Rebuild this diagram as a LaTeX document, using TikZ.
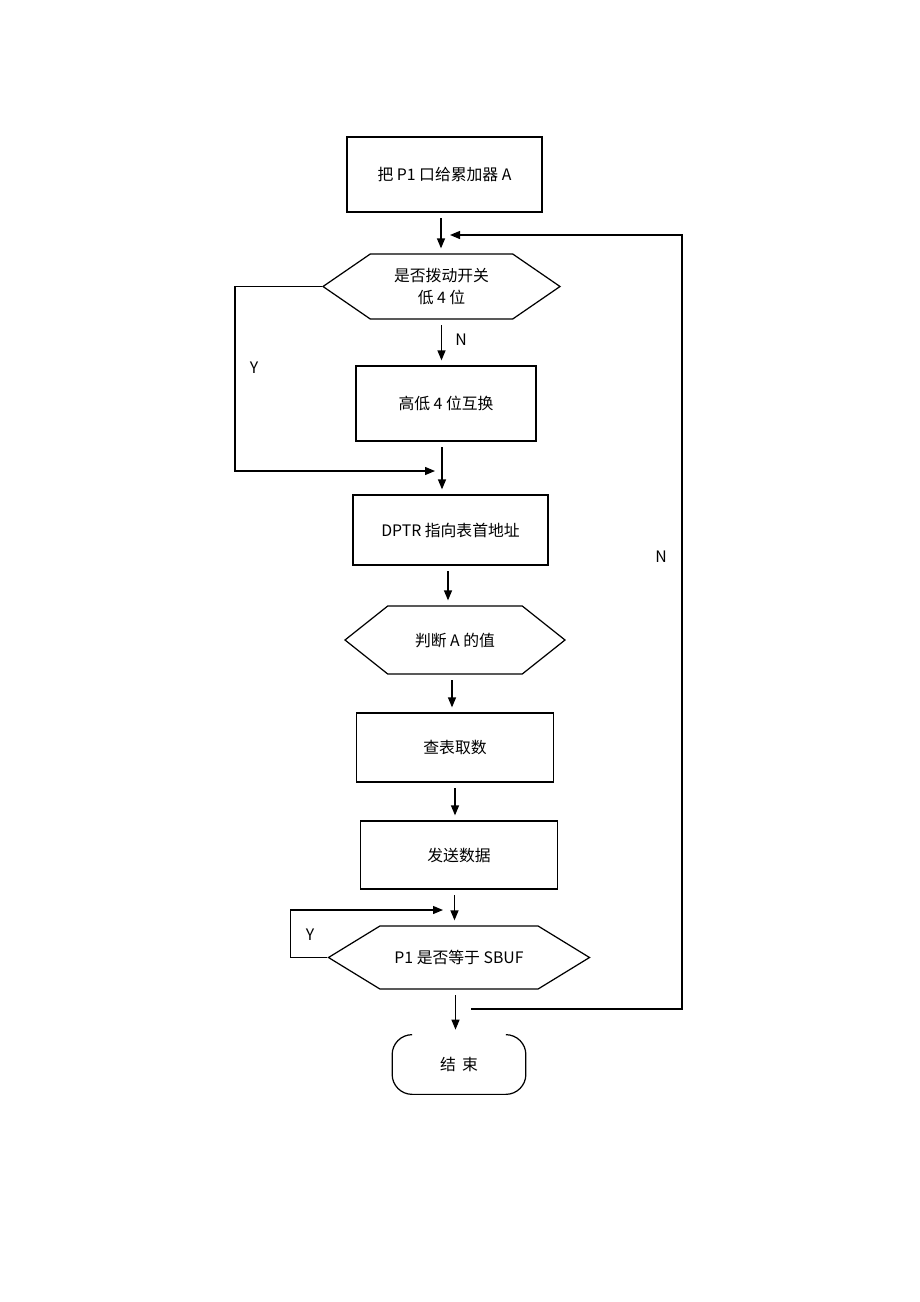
\documentclass[tikz,border=0pt]{standalone}
\usepackage{fontspec}
\setmainfont{Noto Sans CJK SC}
\usetikzlibrary{arrows.meta,shapes.symbols,shapes.geometric}
\tikzstyle{process} = [rectangle, minimum width=3.9cm, minimum height=1.5cm, text centered, draw=black, line width=0.7pt]
\tikzstyle{decision} = [signal, signal to=west and east, minimum height=1.3cm, text centered, align=center, draw=black, line width=0.7pt]
\tikzstyle{startstop} = [rectangle, minimum width=2.66cm, minimum height=1.18cm, text centered]
\tikzstyle{arrow} = [line width=0.7pt, -{Triangle[length=2mm,width=1.6mm]}, shorten <=1.1mm, shorten >=1mm]
\tikzstyle{feedback} = [line width=0.7pt, -{Triangle[length=2mm,width=1.6mm]}]

\begin{document}
\begin{tikzpicture}[node distance=2.2cm, font=\fontsize{9}{13}\selectfont]
\useasboundingbox (0,0) rectangle (18.4,-26.04);
\node (in1) [process] at (8.89,-3.49) {把 P1 口给累加器 A};
\node (dec1) [decision, node distance=2.24cm, below of=in1, xshift=-0.06cm, minimum width=4.74cm, signal pointer angle=69] {是否拨动开关\\低 4 位};
\node (swap) [process, node distance=2.34cm, below of=dec1, xshift=0.09cm, minimum width=3.6cm] {高低 4 位互换};
\node (dptr) [process, node distance=2.53cm, below of=swap, xshift=0.09cm, minimum height=1.4cm] {DPTR 指向表首地址};
\node (dec2) [decision, node distance=2.2cm, below of=dptr, xshift=0.09cm, minimum width=4.4cm, minimum height=1.36cm, signal pointer angle=77] {判断 A 的值};
\node (look) [process, node distance=2.15cm, below of=dec2, minimum width=3.94cm, minimum height=1.38cm] {查表取数};
\node (send) [process, node distance=2.15cm, below of=look, xshift=0.08cm, minimum width=3.94cm, minimum height=1.36cm] {发送数据};
\node (dec3) [decision, node distance=2.05cm, below of=send, minimum width=5.22cm, minimum height=1.26cm, signal pointer angle=63] {P1 是否等于 SBUF};
\node (out1) [startstop, node distance=2.14cm, below of=dec3] {结 \,束};
% terminal outline, top edge left open
\draw [line width=0.7pt, rounded corners=0.4cm] ([xshift=0.4cm]out1.north west) -- (out1.north west) -- (out1.south west) -- (out1.south east) -- (out1.north east) -- ([xshift=-0.4cm]out1.north east);

\node (yes1) at (5.08,-7.36) {Y};
\node (no1) at (9.22,-6.8) {N};
\node (no2) at (13.22,-11.14) {N};
\node (yes2) at (6.2,-18.7) {Y};

\coordinate (yin1) at (8.7,-9.42);
\coordinate (yin2) at (8.86,-18.2);
\coordinate (nout) at (9.42,-20.18);
\coordinate (nin) at (9.0,-4.7);

\draw [arrow] ([xshift=-0.07cm]in1.south) -- ([xshift=-0.07cm]in1.south |- dec1.north);
\draw [arrow] (dec1.south) -- (dec1.south |- swap.north);
\draw [arrow] ([xshift=-0.08cm]swap.south) -- ([xshift=-0.08cm]swap.south |- dptr.north);
\draw [arrow] ([xshift=-0.05cm]dptr.south) -- ([xshift=-0.05cm]dptr.south |- dec2.north);
\draw [arrow] ([xshift=-0.06cm]dec2.south) -- ([xshift=-0.06cm]dec2.south |- look.north);
\draw [arrow] (look.south) -- (look.south |- send.north);
\draw [arrow] ([xshift=-0.09cm]send.south) -- ([xshift=-0.09cm]send.south |- dec3.north);
\draw [arrow] ([xshift=-0.07cm]dec3.south) -- ([xshift=-0.07cm]dec3.south |- out1.north);

\draw [feedback] (dec1.west) -- ++(-1.74,0) |- (yin1);
\draw [feedback] (dec3.west) -- ++(-0.74,0) |- (yin2);
\draw [feedback] (nout) -- ++(4.22,0) |- (nin);
\end{tikzpicture}
\end{document}
